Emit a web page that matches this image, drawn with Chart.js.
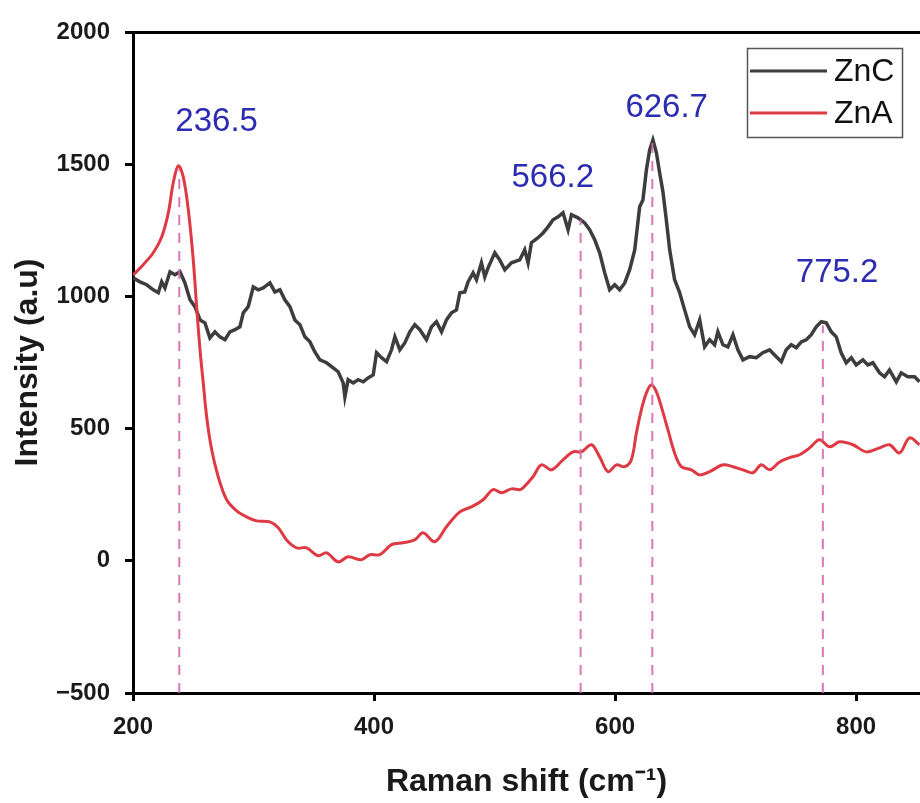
<!DOCTYPE html>
<html>
<head>
<meta charset="utf-8">
<script src="https://cdn.jsdelivr.net/npm/chart.js@4.4.0/dist/chart.umd.min.js"></script>
<style>
  html, body { margin: 0; padding: 0; background: #fff; }
</style>
</head>
<body>
<canvas id="ramanChart" width="920" height="803"></canvas>
<script>
const FONT = "'Liberation Sans', Arial, sans-serif";

// ZnC (black) spectrum
const zncX = [200, 205.8, 211.4, 216.8, 221.0, 223.8, 226.5, 230.7, 234.8, 239.0, 243.1, 247.3, 251.4, 255.6, 259.7,
  263.8, 268.0, 272.1, 276.3, 280.4, 284.6, 288.7, 291.5, 295.6, 299.8, 303.9, 308.0, 313.6, 317.7, 321.9, 326.0,
  330.2, 334.3, 338.5, 342.6, 346.8, 350.9, 355.1, 360.6, 366.1, 370.2, 374.4, 375.8, 378.5, 382.7, 386.8, 391.0,
  395.1, 399.3, 402.1, 406.2, 410.4, 414.5, 417.3, 421.4, 425.5, 429.7, 433.8, 438.0, 443.5, 447.7, 451.8, 456.0,
  460.1, 464.3, 468.4, 471.2, 475.3, 478.0, 482.2, 485.0, 489.1, 491.9, 494.6, 500.2, 504.3, 508.5, 514.0, 520.9,
  525.0, 527.8, 530.6, 536.1, 540.2, 544.4, 548.5, 552.7, 556.8, 561.0, 563.8, 569.2, 574.8, 578.9, 583.1, 587.2,
  591.4, 595.5, 599.7, 603.8, 608.0, 612.1, 616.3, 620.4, 623.1, 626.0, 628.7, 631.4, 634.3, 637.0, 639.7, 642.5,
  645.3, 649.4, 653.6, 657.7, 661.9, 666.0, 670.2, 674.3, 678.4, 682.6, 685.3, 689.5, 693.6, 697.8, 701.9, 706.1,
  711.6, 717.2, 722.6, 728.2, 733.8, 737.9, 742.0, 746.2, 750.3, 754.5, 758.6, 762.8, 766.9, 771.1, 775.2, 779.4,
  783.5, 787.6, 791.8, 796.0, 800.1, 805.6, 809.7, 813.9, 819.4, 823.6, 827.7, 833.3, 837.4, 842.9, 848.5, 852.6];
const zncY = [1070, 1055, 1044, 1025, 1014, 1055, 1032, 1093, 1082, 1093, 1051, 987, 961, 911, 900,
  843, 866, 847, 836, 866, 874, 885, 938, 961, 1036, 1025, 1032, 1051, 1017, 1025, 987,
  961, 911, 893, 847, 828, 790, 760, 749, 730, 715, 673, 620, 685, 673, 685, 677,
  692, 703, 787, 768, 753, 798, 847, 798, 824, 866, 893, 874, 836, 885, 904, 866,
  911, 938, 949, 1014, 1017, 1055, 1089, 1063, 1127, 1074, 1108, 1165, 1138, 1101, 1127, 1138,
  1176, 1127, 1203, 1222, 1240, 1263, 1290, 1301, 1316, 1252, 1309, 1297, 1278, 1252, 1214, 1165,
  1089, 1025, 1044, 1025, 1051, 1101, 1176, 1339, 1365, 1479, 1554, 1592, 1543, 1467, 1396, 1290,
  1176, 1063, 1014, 949, 885, 855, 911, 809, 836, 817, 866, 817, 809, 855, 798, 760,
  772, 768, 787, 798, 772, 753, 798, 817, 806, 828, 836, 855, 885, 904, 900, 866,
  847, 787, 749, 768, 741, 760, 741, 749, 711, 696, 722, 677, 711, 696, 696, 677];

// ZnA (red) spectrum
const znaX = [200, 208.5, 216.8, 223.8, 229.3, 233.4, 237.6, 241.7, 245.9, 250.0, 252.8, 255.6, 258.3, 261.1, 265.3,
  270.7, 277.7, 286.0, 294.3, 302.6, 313.6, 320.5, 327.4, 335.7, 344.0, 353.6, 360.6, 370.2, 378.5, 389.6, 396.5,
  404.8, 414.5, 424.1, 433.8, 440.7, 450.4, 460.1, 471.2, 480.8, 490.5, 498.8, 505.7, 514.0, 520.9, 523.6, 531.9,
  538.9, 547.2, 556.8, 565.1, 572.1, 580.4, 587.2, 594.1, 601.1, 608.0, 613.5, 617.7, 621.8, 626.0, 630.1, 634.3,
  638.4, 643.9, 649.4, 655.0, 663.3, 670.2, 678.4, 689.5, 697.8, 706.1, 714.4, 721.3, 728.2, 736.5, 744.8, 753.1,
  761.4, 769.7, 778.0, 786.3, 797.3, 808.4, 819.4, 827.7, 836.0, 844.3, 852.6];
const znaY = [1080, 1120, 1165, 1225, 1316, 1430, 1494, 1452, 1327, 1138, 961, 798, 673, 545, 420,
  318, 231, 189, 166, 151, 147, 125, 79, 49, 49, 19, 30, -4, 15, 4, 23,
  23, 61, 68, 79, 106, 72, 129, 185, 204, 231, 269, 257, 272, 269, 276, 318,
  363, 344, 382, 412, 412, 439, 393, 337, 363, 356, 382, 484, 571, 635, 666, 639,
  582, 495, 408, 356, 344, 325, 337, 363, 356, 344, 333, 363, 344, 374, 390, 401,
  427, 458, 431, 450, 439, 412, 427, 439, 408, 465, 439];

// peak markers
const peakText = ['236.5', '566.2', '626.7', '775.2'];
const peakLineX = [238.4, 571.4, 630.9, 772.4];
const peakLineTop = [1480, 1290, 1580, 890];
const peakTextX = [269.4, 548.3, 642.8, 784.2];
const peakTextY = [1660, 1450, 1713, 1087];

const xTickValues = [200, 400, 600, 800];
const yTickValues = [-500, 0, 500, 1000, 1500, 2000];

const toPoints = (xs, ys) => xs.map((x, i) => ({ x: x, y: ys[i] }));

const curveSets = [
  { label: 'ZnC', data: toPoints(zncX, zncY), borderColor: '#3d3d3d', borderWidth: 3.5, tension: 0, order: 2 },
  { label: 'ZnA', data: toPoints(znaX, znaY), borderColor: '#de3a44', borderWidth: 3, tension: 0.35, order: 1 }
];

const dashSets = peakLineX.map((x, i) => ({
  label: '',
  data: [{ x: x, y: -500 }, { x: x, y: peakLineTop[i] }],
  borderColor: 'rgba(214, 104, 178, 0.9)',
  borderWidth: 2,
  borderDash: [10, 8],
  order: 0
}));

const peakLabelPlugin = {
  id: 'peakLabels',
  afterDatasetsDraw(chart) {
    const { ctx, scales } = chart;
    ctx.save();
    ctx.fillStyle = '#2c2cb2';
    ctx.font = '33px ' + FONT;
    ctx.textAlign = 'center';
    ctx.textBaseline = 'middle';
    peakText.forEach((t, i) => {
      ctx.fillText(t, scales.x.getPixelForValue(peakTextX[i]), scales.y.getPixelForValue(peakTextY[i]));
    });
    ctx.restore();
  }
};

// boxed legend inside the plot, top right
const boxLegendPlugin = {
  id: 'boxLegend',
  afterDraw(chart) {
    const ctx = chart.ctx;
    ctx.save();
    ctx.fillStyle = '#fff';
    ctx.fillRect(748, 49, 154, 88);
    ctx.strokeStyle = '#555';
    ctx.lineWidth = 1.5;
    ctx.strokeRect(747.5, 48.5, 155, 89);
    ctx.font = '32px ' + FONT;
    ctx.textBaseline = 'middle';
    curveSets.forEach((ds, i) => {
      const y = 71 + i * 42;
      ctx.strokeStyle = ds.borderColor;
      ctx.lineWidth = 3;
      ctx.beginPath();
      ctx.moveTo(750, y);
      ctx.lineTo(827, y);
      ctx.stroke();
      ctx.fillStyle = '#111';
      ctx.fillText(ds.label, 834, y + 1);
    });
    ctx.restore();
  }
};

const tickFont = { family: FONT, size: 24, weight: 'bold' };
const titleFont = { family: FONT, size: 32, weight: 'bold' };

new Chart(document.getElementById('ramanChart'), {
  type: 'line',
  data: { datasets: curveSets.concat(dashSets) },
  options: {
    responsive: false,
    animation: false,
    events: [],
    elements: { point: { radius: 0 } },
    layout: { padding: 0 },
    plugins: { legend: { display: false }, tooltip: { enabled: false } },
    scales: {
      x: {
        type: 'linear',
        position: 'bottom',
        min: 200,
        max: 853,
        afterBuildTicks: s => { s.ticks = xTickValues.map(v => ({ value: v })); },
        afterFit: s => { s.height = 110; },
        ticks: { font: tickFont, color: '#1a1a1a', padding: 12 },
        grid: { drawOnChartArea: false, tickLength: 8, tickWidth: 3, tickColor: '#000' },
        border: { color: '#000', width: 3 },
        title: { display: true, text: 'Raman shift (cm⁻¹)', font: titleFont, color: '#1a1a1a', padding: { top: 0, bottom: 2 } }
      },
      xTop: {
        type: 'linear',
        position: 'top',
        min: 200,
        max: 853,
        ticks: { display: false },
        grid: { display: false, drawTicks: false },
        border: { color: '#000', width: 3 },
        afterFit: s => { s.height = 32; }
      },
      y: {
        type: 'linear',
        min: -500,
        max: 2000,
        afterBuildTicks: s => { s.ticks = yTickValues.map(v => ({ value: v })); },
        afterFit: s => { s.width = 133; },
        ticks: {
          font: tickFont,
          color: '#1a1a1a',
          padding: 15,
          callback: v => String(v).replace('-', '\u2212')
        },
        grid: { drawOnChartArea: false, tickLength: 8, tickWidth: 3, tickColor: '#000' },
        border: { color: '#000', width: 3 },
        title: { display: true, text: 'Intensity (a.u)', font: titleFont, color: '#1a1a1a', padding: 9 }
      }
    }
  },
  plugins: [peakLabelPlugin, boxLegendPlugin]
});
</script>
</body>
</html>
